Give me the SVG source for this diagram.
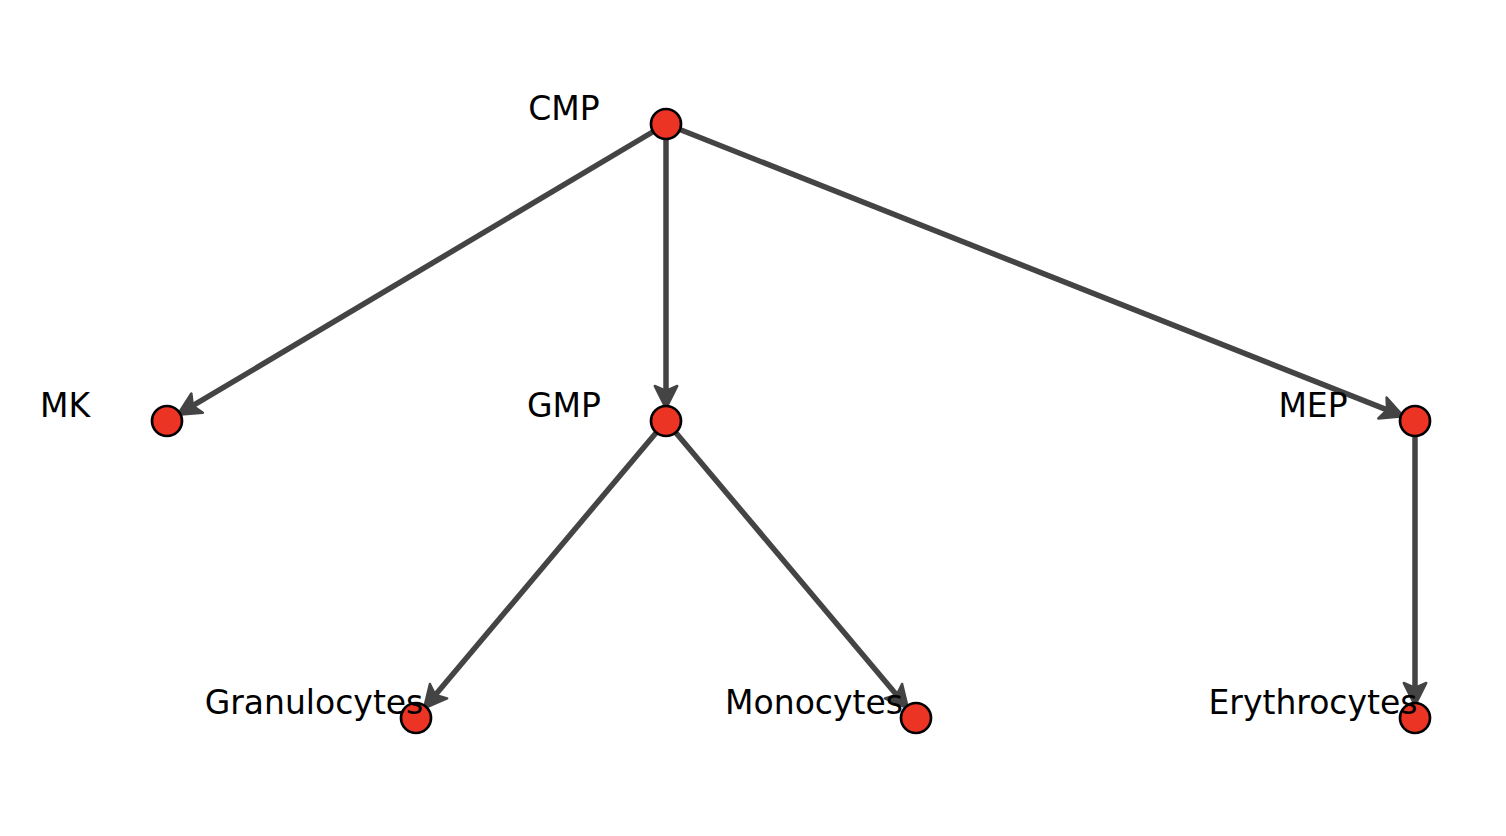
<svg xmlns="http://www.w3.org/2000/svg" width="1506" height="836" viewBox="0 0 1506 836">
<style>
.edge{stroke:#444444;stroke-width:5.5;fill:none;marker-end:url(#ah)}
.node{fill:#EC3425;stroke:#000000;stroke-width:2.7}
.lbl{font-family:"DejaVu Sans",sans-serif;font-size:33px;fill:#000000;text-anchor:middle}
</style>
<defs>
<marker id="ah" markerUnits="userSpaceOnUse" markerWidth="30" markerHeight="30" viewBox="-2 -12 24 24" refX="4" refY="0" orient="auto">
<path d="M0,-9 L18,0 L0,9 L4,0 Z" fill="#444444" stroke="#444444" stroke-width="2" stroke-linejoin="round"/>
</marker>
</defs>
<rect width="1506" height="836" fill="#ffffff"/>
<g id="edges">
<line class="edge" x1="666" y1="124" x2="192.8" y2="405.7"/>
<line class="edge" x1="666" y1="124" x2="666" y2="391"/>
<line class="edge" x1="666" y1="124" x2="1387.1" y2="409.9"/>
<line class="edge" x1="666" y1="421" x2="435.3" y2="695"/>
<line class="edge" x1="666" y1="421" x2="896.7" y2="695"/>
<line class="edge" x1="1415" y1="421" x2="1415" y2="688"/>
</g>
<g id="CMP"><circle class="node" cx="666" cy="124" r="15"/><text class="lbl" x="564" y="120">CMP</text></g>
<g id="MK"><circle class="node" cx="167" cy="421" r="15"/><text class="lbl" x="65" y="417">MK</text></g>
<g id="GMP"><circle class="node" cx="666" cy="421" r="15"/><text class="lbl" x="564" y="417">GMP</text></g>
<g id="MEP"><circle class="node" cx="1415" cy="421" r="15"/><text class="lbl" x="1313" y="417">MEP</text></g>
<g id="Granulocytes"><circle class="node" cx="416" cy="718" r="15"/><text class="lbl" x="314" y="714">Granulocytes</text></g>
<g id="Monocytes"><circle class="node" cx="916" cy="718" r="15"/><text class="lbl" x="814" y="714">Monocytes</text></g>
<g id="Erythrocytes"><circle class="node" cx="1415" cy="718" r="15"/><text class="lbl" x="1313" y="714">Erythrocytes</text></g>
</svg>
